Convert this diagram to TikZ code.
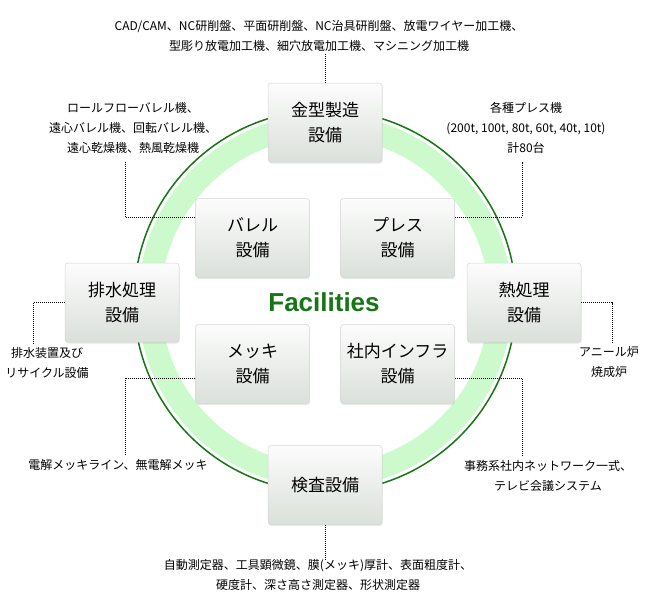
\documentclass[tikz,border=0pt]{standalone}
\usepackage{fontspec}
\setmainfont{Noto Sans CJK JP}
\newfontfamily\facfont{Liberation Sans}
\usetikzlibrary{shadows}
\definecolor{darkgrn}{RGB}{22,118,22}
\definecolor{bandgrn}{RGB}{204,250,204}
\definecolor{boxtop}{RGB}{252,252,252}
\definecolor{boxbot}{RGB}{218,224,218}
\begin{document}
\begin{tikzpicture}[x=1pt,y=-1pt,
  facbox/.style={draw=black!16, line width=0.5pt, rounded corners=3pt,
    top color=boxtop, bottom color=boxbot,
    minimum width=114pt, minimum height=79pt, inner sep=0pt, align=center,
    font=\fontsize{17}{25}\selectfont,
    drop shadow={shadow xshift=0.6pt, shadow yshift=-1.5pt, opacity=0.18}},
  note/.style={align=center, inner sep=0pt, font=\fontsize{12}{20}\selectfont},
  leader/.style={line width=0.8pt, dash pattern=on 0.8pt off 1.2pt}]
\useasboundingbox (0,0) rectangle (647,600);
\fill[white] (0,0) rectangle (647,600);
% ring
\coordinate (c) at (325,301);
\fill[bandgrn, even odd rule] (c) circle (187) (c) circle (164);
\draw[darkgrn, line width=1.5pt] (c) circle (191);
% title
\node[text=darkgrn, inner sep=0pt, font=\facfont\bfseries\fontsize{26}{26}\selectfont] (fac) at (324,302) {Facilities};
% boxes
\node[facbox] (kanagata) at (325,122.5) {金型製造\\設備};
\node[facbox] (barrel) at (252.5,238) {バレル\\設備};
\node[facbox] (press) at (397.5,238) {プレス\\設備};
\node[facbox] (haisui) at (122,302.5) {排水処理\\設備};
\node[facbox] (netsu) at (524,302.5) {熱処理\\設備};
\node[facbox] (mekki) at (252.5,364) {メッキ\\設備};
\node[facbox] (infra) at (397.5,364) {社内インフラ\\設備};
\node[facbox] (kensa) at (325,485) {検査設備};
% notes
\node[note] (tkana) at (319,35.5) {CAD/CAM、NC研削盤、平面研削盤、NC治具研削盤、放電ワイヤー加工機、\\型彫り放電加工機、細穴放電加工機、マシニング加工機};
\node[note] (tbarrel) at (133,128) {ロールフローバレル機、\\遠心バレル機、回転バレル機、\\遠心乾燥機、熱風乾燥機};
\node[note] (tpress) at (526,128) {各種プレス機\\(200t, 100t, 80t, 60t, 40t, 10t)\\計80台};
\node[note] (thaisui) at (47,362.5) {排水装置及び\\リサイクル設備};
\node[note] (tnetsu) at (609,362.5) {アニール炉\\焼成炉};
\node[note] (tmekki) at (118,465) {電解メッキライン、無電解メッキ};
\node[note] (tinfra) at (548,475.5) {事務系社内ネットワーク一式、\\テレビ会議システム};
\node[note] (tkensa) at (318,574.5) {自動測定器、工具顕微鏡、膜(メッキ)厚計、表面粗度計、\\硬度計、深さ高さ測定器、形状測定器};
% leader ends
\coordinate (e1) at (325,54);
\coordinate (e2) at (125.5,162);
\coordinate (e3) at (522,162);
\coordinate (e4) at (33,343);
\coordinate (e5) at (612,343);
\coordinate (e6) at (125.5,455);
\coordinate (e7) at (522,455);
\coordinate (e8) at (325,560);
\draw[leader] (kanagata.north) -- (e1);
\draw[leader] ([yshift=21pt]barrel.west) -| (e2);
\draw[leader] ([yshift=21pt]press.east) -| (e3);
\draw[leader] (haisui.west) -| (e4);
\draw[leader] (netsu.east) -| (e5);
\draw[leader] ([yshift=-14pt]mekki.west) -| (e6);
\draw[leader] ([yshift=-14pt]infra.east) -| (e7);
\draw[leader] (kensa.south) -- (e8);
\end{tikzpicture}
\end{document}
